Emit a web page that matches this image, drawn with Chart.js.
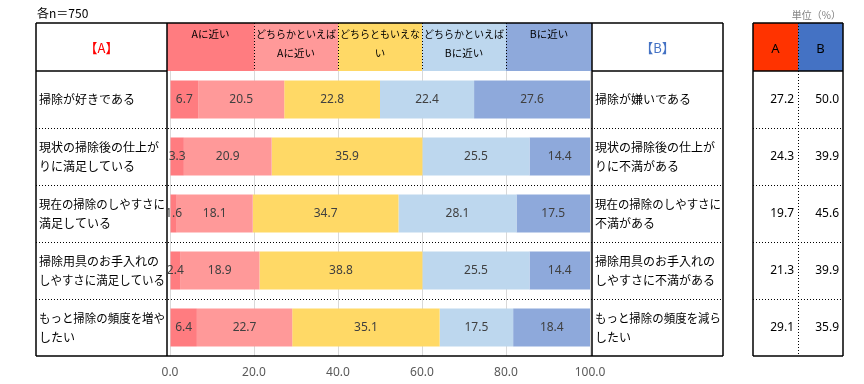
<!DOCTYPE html>
<html>
<head>
<meta charset="utf-8">
<script src="https://cdn.jsdelivr.net/npm/chart.js@4.4.1/dist/chart.umd.min.js"></script>
<style>
html,body{margin:0;padding:0;background:#fff;}
canvas{display:block;}
</style>
</head>
<body>
<canvas id="c" width="864" height="384"></canvas>
<script>
const leftLabels = [
  ['掃除が好きである'],
  ['現状の掃除後の仕上が', 'りに満足している'],
  ['現在の掃除のしやすさに', '満足している'],
  ['掃除用具のお手入れの', 'しやすさに満足している'],
  ['もっと掃除の頻度を増や', 'したい']
];
const rightLabels = [
  ['掃除が嫌いである'],
  ['現状の掃除後の仕上が', 'りに不満がある'],
  ['現在の掃除のしやすさに', '不満がある'],
  ['掃除用具のお手入れの', 'しやすさに不満がある'],
  ['もっと掃除の頻度を減ら', 'したい']
];
const seriesNames = [
  ['Aに近い'],
  ['どちらかといえば', 'Aに近い'],
  ['どちらともいえな', 'い'],
  ['どちらかといえば', 'Bに近い'],
  ['Bに近い']
];
const nearA    = [6.7, 3.3, 1.6, 2.4, 6.4];
const ratherA  = [20.5, 20.9, 18.1, 18.9, 22.7];
const neutral  = [22.8, 35.9, 34.7, 38.8, 35.1];
const ratherB  = [22.4, 25.5, 28.1, 25.5, 17.5];
const nearB    = [27.6, 14.4, 17.5, 14.4, 18.4];
const totalA   = [27.2, 24.3, 19.7, 21.3, 29.1];
const totalB   = [50.0, 39.9, 45.6, 39.9, 35.9];
const xTicks   = [0, 20, 40, 60, 80, 100];
const titleText = '各n＝750';
const unitText = '単位（%）';
const headA = '【A】';
const headB = '【B】';

const colors = ['#FF7C80', '#FF9999', '#FFD966', '#BDD7EE', '#8EA9DB'];
const JP = '"Noto Sans CJK JP", "Noto Sans", sans-serif';
const NUM = '"Noto Sans", "DejaVu Sans", sans-serif';

function dotted(ctx, x1, y1, x2, y2) {
  ctx.save();
  ctx.strokeStyle = '#000';
  ctx.lineWidth = 1;
  ctx.setLineDash([1, 2]);
  ctx.beginPath();
  ctx.moveTo(x1, y1); ctx.lineTo(x2, y2);
  ctx.stroke();
  ctx.restore();
}
function solid(ctx, x1, y1, x2, y2, w) {
  ctx.save();
  ctx.strokeStyle = '#000';
  ctx.lineWidth = w || 1.5;
  ctx.beginPath();
  ctx.moveTo(x1, y1); ctx.lineTo(x2, y2);
  ctx.stroke();
  ctx.restore();
}

const layoutPlugin = {
  id: 'layoutPlugin',
  beforeDraw(chart) {
    const ctx = chart.ctx;
    ctx.save();
    ctx.fillStyle = '#fff';
    ctx.fillRect(0, 0, chart.width, chart.height);
    ctx.restore();
  },
  afterDatasetsDraw(chart) {
    const ctx = chart.ctx;
    const xs = chart.scales.x;
    const ys = chart.scales.y;
    const ca = chart.chartArea;
    const n = leftLabels.length;
    const rowH = (ca.bottom - ca.top) / n;
    const top = 23, hdrBot = ca.top;
    const L0 = 36, L1 = ca.left - 3, R0 = ca.right + 2, R1 = 723;
    const T0 = 753, TM = 798, T1 = 843;

    // header colored cells
    const edges = xTicks.map(v => xs.getPixelForValue(v));
    edges[0] = L1; edges[edges.length - 1] = R0;
    for (let i = 0; i < 5; i++) {
      ctx.fillStyle = colors[i];
      ctx.fillRect(edges[i], top, edges[i + 1] - edges[i], hdrBot - top);
    }
    for (let i = 1; i < 5; i++) dotted(ctx, Math.round(edges[i]) + 0.5, top, Math.round(edges[i]) + 0.5, hdrBot);
    ctx.save();
    ctx.font = '10.5px ' + JP;
    ctx.fillStyle = '#000';
    ctx.textAlign = 'center';
    ctx.textBaseline = 'middle';
    for (let i = 0; i < 5; i++) {
      const cx = (edges[i] + edges[i + 1]) / 2;
      seriesNames[i].forEach((t, k) => ctx.fillText(t, cx, 34 + k * 19, 80));
    }
    ctx.restore();

    // row separators
    for (let r = 1; r < n; r++) {
      const y = Math.round(ca.top + r * rowH) + 0.5;
      dotted(ctx, L0, y, R1, y);
      dotted(ctx, T0, y, T1, y);
    }

    // main frame
    solid(ctx, L0, top, R1, top);
    solid(ctx, L0, ca.bottom, R1, ca.bottom);
    solid(ctx, L0, hdrBot, L1, hdrBot);
    solid(ctx, R0, hdrBot, R1, hdrBot);
    solid(ctx, L0, top, L0, ca.bottom);
    solid(ctx, L1, top, L1, ca.bottom);
    solid(ctx, R0, top, R0, ca.bottom);
    solid(ctx, R1, top, R1, ca.bottom);

    // header labels A / B
    ctx.save();
    ctx.font = '13px ' + JP;
    ctx.textAlign = 'center';
    ctx.textBaseline = 'middle';
    ctx.fillStyle = '#FF0000';
    ctx.fillText(headA, (L0 + L1) / 2, 48);
    ctx.fillStyle = '#4472C4';
    ctx.fillText(headB, (R0 + R1) / 2, 48);
    ctx.restore();

    // row labels
    ctx.save();
    ctx.font = '12px ' + JP;
    ctx.fillStyle = '#000';
    ctx.textAlign = 'left';
    ctx.textBaseline = 'middle';
    for (let r = 0; r < n; r++) {
      const cy = ys.getPixelForValue(r);
      const ll = leftLabels[r], rl = rightLabels[r];
      ll.forEach((t, k) => ctx.fillText(t, L0 + 3, cy + (k - (ll.length - 1) / 2) * 19, 126));
      rl.forEach((t, k) => ctx.fillText(t, R0 + 3, cy + (k - (rl.length - 1) / 2) * 19, 126));
    }
    ctx.restore();

    // right table
    ctx.save();
    ctx.fillStyle = '#FF3300';
    ctx.fillRect(T0, top, TM - T0, hdrBot - top);
    ctx.fillStyle = '#4472C4';
    ctx.fillRect(TM, top, T1 - TM, hdrBot - top);
    ctx.restore();
    dotted(ctx, TM + 0.5, top, TM + 0.5, ca.bottom);
    solid(ctx, T0, top, T1, top);
    solid(ctx, T0, hdrBot, T1, hdrBot);
    solid(ctx, T0, ca.bottom, T1, ca.bottom);
    solid(ctx, T0, top, T0, ca.bottom);
    solid(ctx, T1, top, T1, ca.bottom);
    ctx.save();
    ctx.font = '13px ' + NUM;
    ctx.fillStyle = '#000';
    ctx.textAlign = 'center';
    ctx.textBaseline = 'middle';
    ctx.fillText('A', (T0 + TM) / 2, 49);
    ctx.fillText('B', (TM + T1) / 2, 49);
    ctx.font = '12px ' + NUM;
    ctx.textAlign = 'right';
    for (let r = 0; r < n; r++) {
      const cy = ys.getPixelForValue(r);
      ctx.fillText(totalA[r].toFixed(1), TM - 4, cy);
      ctx.fillText(totalB[r].toFixed(1), T1 - 4, cy);
    }
    ctx.restore();

    // title & unit
    ctx.save();
    ctx.fillStyle = '#000';
    ctx.font = '12px ' + JP;
    ctx.textAlign = 'left';
    ctx.textBaseline = 'middle';
    ctx.fillText(titleText, 37, 13);
    ctx.fillStyle = '#7F7F7F';
    ctx.font = '10px ' + JP;
    ctx.textAlign = 'right';
    ctx.fillText(unitText, 841, 15);
    ctx.restore();

    // value labels
    ctx.save();
    ctx.font = '12px ' + NUM;
    ctx.fillStyle = '#404040';
    ctx.textAlign = 'center';
    ctx.textBaseline = 'middle';
    chart.data.datasets.forEach((ds, di) => {
      const meta = chart.getDatasetMeta(di);
      meta.data.forEach((el, i) => {
        const cx = (el.x + el.base) / 2;
        ctx.fillText(ds.data[i].toFixed(1), cx, el.y);
      });
    });
    ctx.restore();
  }
};

new Chart(document.getElementById('c'), {
  type: 'bar',
  data: {
    labels: leftLabels.map(l => l.join('')),
    datasets: [nearA, ratherA, neutral, ratherB, nearB].map((d, i) => ({
      label: seriesNames[i].join(''),
      data: d,
      backgroundColor: colors[i],
      borderWidth: 0,
      barPercentage: 0.667,
      categoryPercentage: 1
    }))
  },
  options: {
    indexAxis: 'y',
    responsive: false,
    devicePixelRatio: 1,
    animation: false,
    layout: { padding: { left: 170, right: 274, top: 71, bottom: 0 } },
    plugins: { legend: { display: false }, tooltip: { enabled: false } },
    scales: {
      x: {
        stacked: true, min: 0, max: 100,
        afterBuildTicks: s => { s.ticks = xTicks.map(v => ({ value: v })); },
        afterFit: s => { s.height = 28; },
        grid: { color: '#D9D9D9', drawTicks: false, lineWidth: 1 },
        border: { display: false },
        ticks: {
          padding: 9,
          color: '#595959',
          font: { family: NUM, size: 12 },
          callback: v => Number(v).toFixed(1),
          maxRotation: 0
        }
      },
      y: { stacked: true, display: false }
    }
  },
  plugins: [layoutPlugin]
});
</script>
</body>
</html>
